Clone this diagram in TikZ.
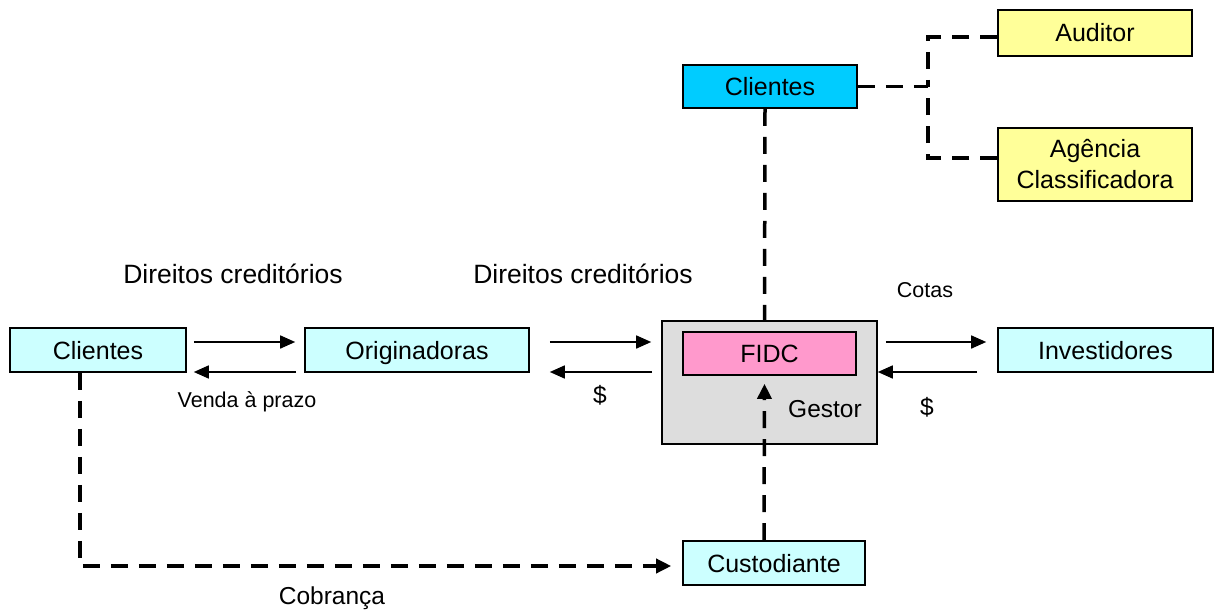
\documentclass[tikz,border=0pt]{standalone}
\usepackage{fontspec}
\setmainfont{Liberation Sans}
\usetikzlibrary{arrows.meta}
\definecolor{lcyan}{HTML}{CCFFFF}
\definecolor{dcyan}{HTML}{00CCFF}
\definecolor{fpink}{HTML}{FF99CC}
\definecolor{fyel}{HTML}{FFFF99}
\definecolor{fgray}{HTML}{DDDDDD}
\tikzset{
  box/.style={draw=black, line width=1.6pt, inner sep=0pt, font=\fontsize{25}{31}\selectfont, align=center},
  sl/.style={box, text height=18pt, text depth=0pt},
  arr/.style={line width=1.6pt, -{Triangle[length=15pt,width=13pt]}},
  dsh/.style={line width=3.5pt, dash pattern=on 17pt off 11pt},
  dsharr/.style={dsh, -{Triangle[length=15pt,width=14pt]}},
  lbl/.style={font=\fontsize{26.5}{30}\selectfont, inner sep=0pt},
  mlbl/.style={font=\fontsize{24.5}{28}\selectfont, inner sep=0pt},
  slbl/.style={font=\fontsize{21.5}{25}\selectfont, inner sep=0pt}
}
\begin{document}
\begin{tikzpicture}[x=1pt,y=-1pt]
\useasboundingbox (0,0) rectangle (1224,610);
% nodes
\node[box, fill=fgray, minimum width=215pt, minimum height=123pt] (gest) at (769.5,382.5) {};
\node[sl, fill=fpink, minimum width=173pt, minimum height=43pt] (fidc) at (769.5,353.5) {FIDC};
\node[sl, fill=lcyan, minimum width=176pt, minimum height=44pt] (cl) at (98,350) {Clientes};
\node[sl, fill=lcyan, minimum width=224pt, minimum height=44pt] (or) at (417,350) {Originadoras};
\node[sl, fill=lcyan, minimum width=215pt, minimum height=44pt] (inv) at (1105.5,350) {Investidores};
\node[sl, fill=dcyan, minimum width=174pt, minimum height=43pt] (ct) at (770,86.5) {Clientes};
\node[sl, fill=fyel, minimum width=194pt, minimum height=46pt] (aud) at (1095,33) {Auditor};
\node[box, fill=fyel, minimum width=194pt, minimum height=73pt] (ag) at (1095,164.5) {Agência\\Classificadora};
\node[sl, fill=lcyan, minimum width=182pt, minimum height=44pt] (cu) at (774,563) {Custodiante};
% labels
\node[lbl] (l1) at (233,274) {Direitos creditórios};
\node[lbl] (l2) at (583,274) {Direitos creditórios};
\node[slbl] (l3) at (925,290) {Cotas};
\node[slbl] (l4) at (247,402) {Venda à prazo};
\node[mlbl] (l5) at (600,395) {\$};
\node[mlbl] (l6) at (927,407) {\$};
\node[mlbl] (l7) at (825,409) {Gestor};
\node[mlbl] (l8) at (332,598) {Cobrança};
% solid arrows
\draw[arr] ([xshift=7pt,yshift=8pt]cl.east) -- ([xshift=-9pt,yshift=8pt]or.west);
\draw[arr] ([xshift=-8pt,yshift=-22pt]or.west) -- ([xshift=7pt,yshift=-22pt]cl.east);
\draw[arr] ([xshift=20pt,yshift=8pt]or.east) -- ([xshift=-10pt,yshift=40.5pt]gest.west);
\draw[arr] ([xshift=-9pt,yshift=10.5pt]gest.west) -- ([xshift=20pt,yshift=-22pt]or.east);
\draw[arr] ([xshift=8pt,yshift=40.5pt]gest.east) -- ([xshift=-11pt,yshift=8pt]inv.west);
\draw[arr] ([xshift=-20pt,yshift=-22pt]inv.west) -- ([yshift=10.5pt]gest.east);
% dashed connectors
\draw[dsh] ([xshift=-5pt]ct.south) -- ([xshift=-5pt]fidc.north);
\draw[dsharr] ([xshift=-10pt]cu.north) -- ([xshift=-5pt,yshift=-8pt]fidc.south);
\coordinate (jn) at (928,86.5);
\draw[dsh] (ct.east) -- (jn);
\draw[dsh] ([yshift=-4pt]aud.west) -| (jn);
\draw[dsh] ([yshift=6.5pt]ag.west) -| (jn);
\draw[dsharr] ([xshift=-18pt]cl.south) |- ([xshift=-11pt,yshift=-3pt]cu.west);
\end{tikzpicture}
\end{document}
